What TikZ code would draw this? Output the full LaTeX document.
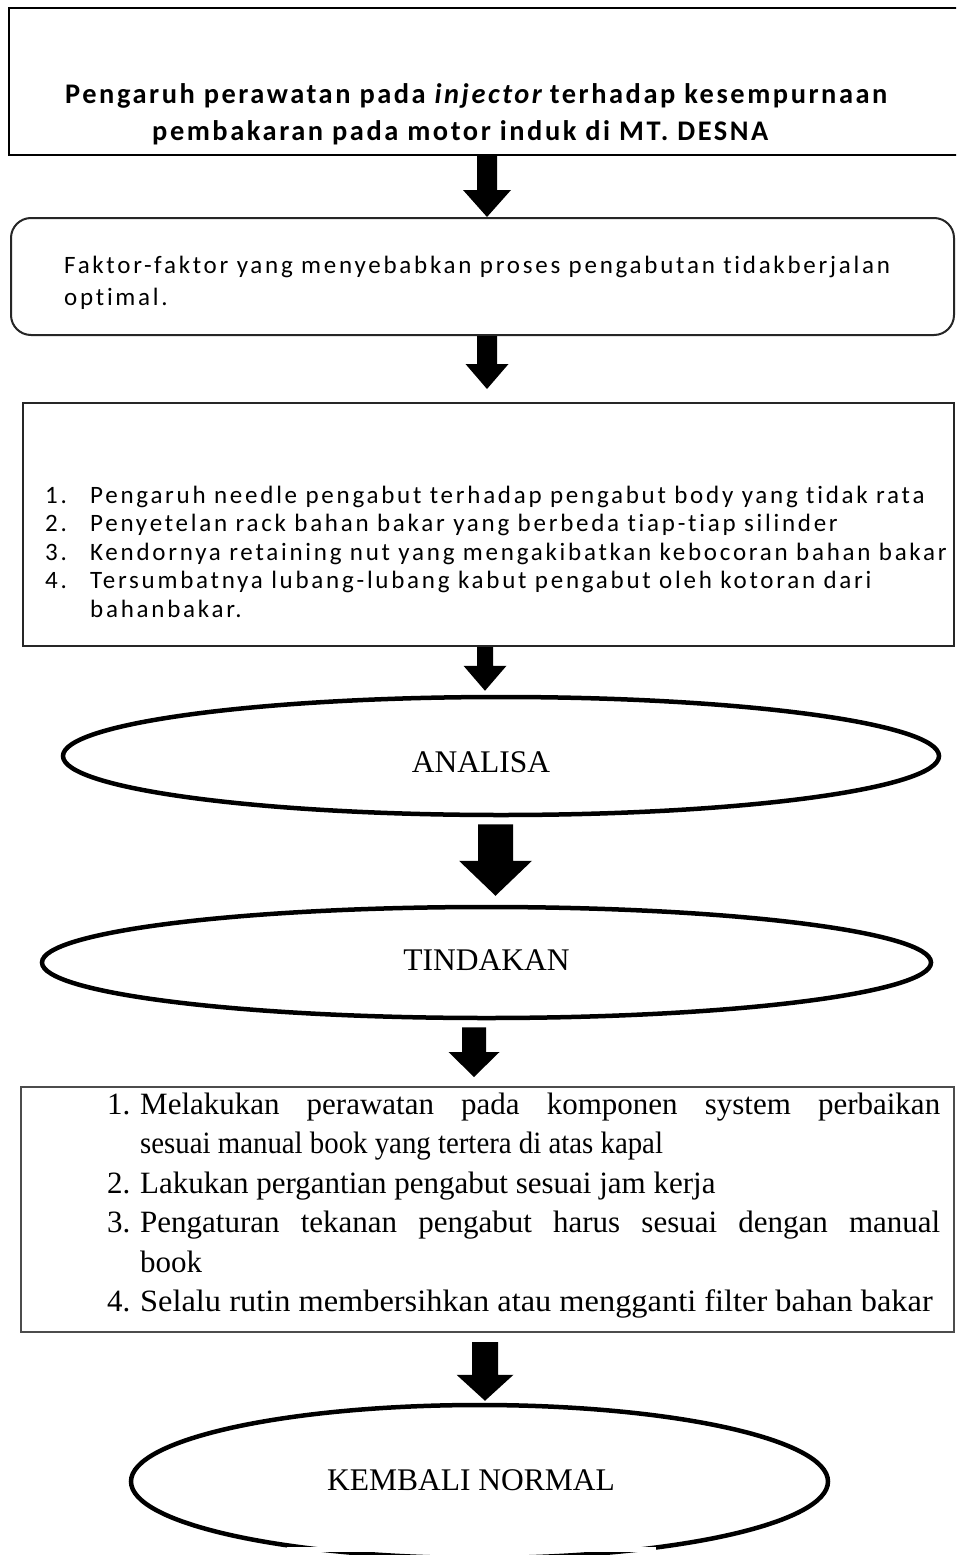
\documentclass[tikz,border=0pt]{standalone}
\usepackage{fontspec}
\setmainfont{Liberation Serif}
\newfontfamily\calfont{Carlito}[LetterSpace=11,Ligatures={NoCommon}]
\newfontfamily\caltfont{Carlito}[LetterSpace=9,Ligatures={NoCommon}]
\usetikzlibrary{shapes.geometric,calc}
\newcommand\blkarrow[5]{% start, tip, half shaft, half head, head length
  \fill let \p1=(#1), \p2=(#2) in
    (\x1-#3pt,\y1) -- (\x1+#3pt,\y1) -- (\x1+#3pt,\y2+#5pt) -- (\x1+#4pt,\y2+#5pt)
    -- (\x1,\y2) -- (\x1-#4pt,\y2+#5pt) -- (\x1-#3pt,\y2+#5pt) -- cycle;}
\begin{document}
\begin{tikzpicture}[x=1pt,y=-1pt,
  box/.style={draw=black!85, line width=2pt, inner sep=0pt, rectangle},
  oval/.style={ellipse, draw=black, line width=4.5pt, inner sep=0pt},
  caltxt/.style={anchor=base west, inner sep=0pt, font=\calfont\fontsize{25}{30}\selectfont},
  caltitle/.style={anchor=base west, inner sep=0pt, font=\caltfont\bfseries\fontsize{28.4}{33}\selectfont},
  timtxt/.style={anchor=base west, inner sep=0pt, font=\fontsize{31}{39}\selectfont},
  ovaltxt/.style={anchor=base, inner sep=0pt, font=\fontsize{31.5}{38}\selectfont}]
\useasboundingbox (0,0) rectangle (956,1555);
\clip (0,0) rectangle (956,1555);
\fill[white] (0,0) rectangle (956,1555);

% boxes and ovals
\node[box, draw=black, minimum width=949pt, minimum height=147pt] (b1) at (483.5,81.5) {};
\node[box, rounded corners=20pt, minimum width=943pt, minimum height=117pt] (b2) at (482.5,276.5) {};
\node[box, minimum width=931pt, minimum height=243pt] (b3) at (488.5,524.5) {};
\node[oval, minimum width=876pt, minimum height=118pt] (ana) at (501,756) {};
\node[oval, minimum width=889pt, minimum height=111pt] (tin) at (486.5,962.5) {};
\node[box, draw=black!70, minimum width=933pt, minimum height=245pt] (b4) at (487.5,1209.5) {};
\node[oval, minimum width=697pt, minimum height=153pt] (kem) at (479.5,1481.5) {};
\fill[white] (287,1547) rectangle (656,1551.5);

% arrow axes
\coordinate (ax1) at (487,0);
\coordinate (ax2) at (487,0);
\coordinate (ax3) at (485,0);
\coordinate (ax4) at (495.5,0);
\coordinate (ax5) at (474,0);
\coordinate (ax6) at (485,0);

\blkarrow{b1.south -| ax1}{b2.north -| ax1}{10}{24}{27}
\blkarrow{b2.south -| ax2}{$(b3.north -| ax2)+(0,-13)$}{10}{21.5}{25}
\blkarrow{b3.south -| ax3}{$(ana.north -| ax3)+(0,-4)$}{8}{21.5}{25}
\blkarrow{$(ana.south -| ax4)+(0,7)$}{$(tin.north -| ax4)+(0,-9)$}{17.5}{36.5}{35}
\blkarrow{$(tin.south -| ax5)+(0,7)$}{$(b4.north -| ax5)+(0,-9)$}{12}{25.5}{25}
\blkarrow{$(b4.south -| ax6)+(0,9)$}{$(kem.north -| ax6)+(0,-2)$}{13}{28.5}{26}

% title
\node[caltitle] (t1a) at (65,103) {Pengaruh perawatan pada \textit{injector}\hspace{-4pt} terhadap kesempurnaan};
\node[caltitle] (t1b) at (152,140) {pembakaran pada motor induk di MT. DESNA};

% box 2
\node[caltxt] (t2a) at (64,273) {Faktor-faktor yang menyebabkan proses pengabutan tidakberjalan};
\node[caltxt] (t2b) at (64,305) {optimal.};

% box 3
\node[caltxt] (n31) at (45,503) {1.};
\node[caltxt] (t31) at (90,503) {Pengaruh needle pengabut terhadap pengabut body yang tidak rata};
\node[caltxt] (n32) at (45,531.5) {2.};
\node[caltxt] (t32) at (90,531.5) {Penyetelan rack bahan bakar yang berbeda tiap-tiap silinder};
\node[caltxt] (n33) at (45,560) {3.};
\node[caltxt] (t33) at (90,560) {Kendornya retaining nut yang mengakibatkan kebocoran bahan bakar};
\node[caltxt] (n34) at (45,588.5) {4.};
\node[caltxt] (t34) at (90,588.5) {Tersumbatnya lubang-lubang kabut pengabut oleh kotoran dari};
\node[caltxt] (t35) at (90,617) {bahanbakar.};

% ovals text
\node[ovaltxt] (l1) at (481,772) {ANALISA};
\node[ovaltxt] (l2) at (486.5,970) {TINDAKAN};
\node[ovaltxt] (l3) at (471,1490) {KEMBALI NORMAL};

% box 4
\node[timtxt] (n41) at (107,1114) {1.};
\node[timtxt] (t41) at (140,1114) {\makebox[800pt][s]{Melakukan perawatan pada komponen system perbaikan}};
\node[timtxt] (t42) at (140,1153.5) {\scalebox{0.93}[1]{sesuai manual book yang tertera di atas kapal}};
\node[timtxt] (n43) at (107,1193) {2.};
\node[timtxt] (t43) at (140,1193) {Lakukan pergantian pengabut sesuai jam kerja};
\node[timtxt] (n44) at (107,1232.5) {3.};
\node[timtxt] (t44) at (140,1232.5) {\makebox[800pt][s]{Pengaturan tekanan pengabut harus sesuai dengan manual}};
\node[timtxt] (t45) at (140,1272) {book};
\node[timtxt] (n46) at (107,1311.5) {4.};
\node[timtxt] (t46) at (140,1311.5) {\scalebox{1.045}[1]{Selalu rutin membersihkan atau mengganti filter bahan bakar}};
\end{tikzpicture}
\end{document}
